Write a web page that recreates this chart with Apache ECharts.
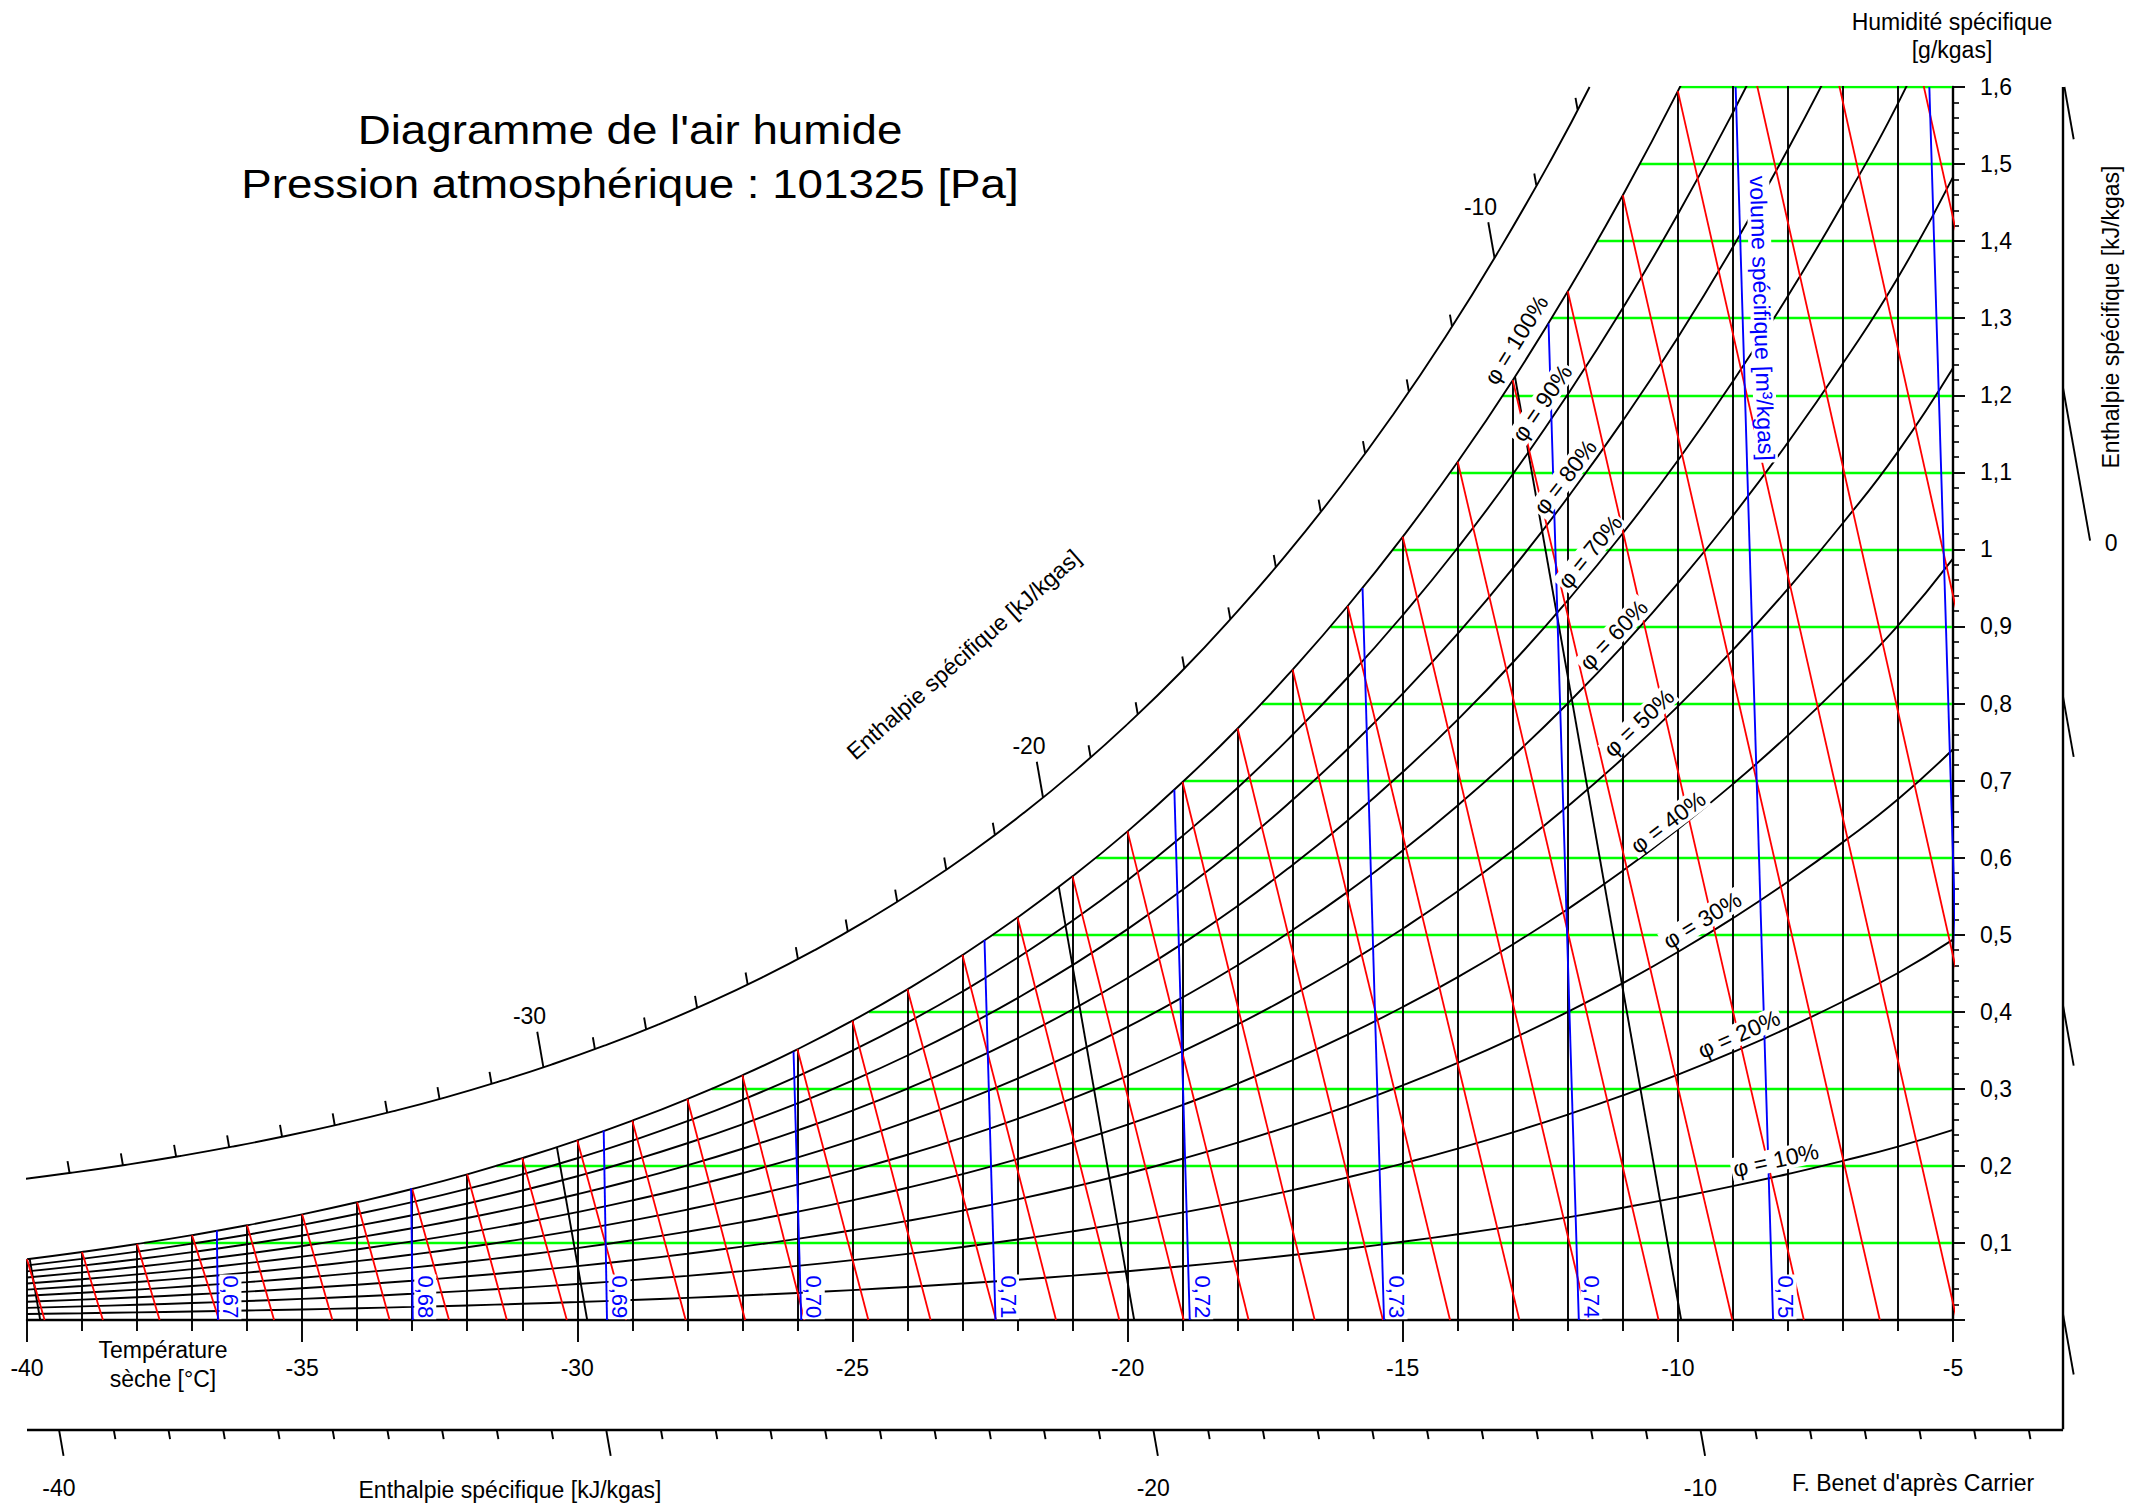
<!DOCTYPE html>
<html>
<head>
<meta charset="utf-8">
<title>Diagramme de l'air humide</title>
<script src="https://cdn.jsdelivr.net/npm/echarts@6.0.0/dist/echarts.min.js"></script>
<style>html,body{margin:0;padding:0;background:#ffffff;}#chart{width:2134px;height:1510px;}</style>
</head>
<body>
<div id="chart"></div>
<script>
// ---------------- values ----------------
const temperatures = [-40,-39,-38,-37,-36,-35,-34,-33,-32,-31,-30,-29,-28,-27,-26,-25,-24,-23,-22,-21,-20,-19,-18,-17,-16,-15,-14,-13,-12,-11,-10,-9,-8,-7,-6,-5];
// saturation specific humidity (g/kgas) at each dry temperature
const saturationW = [0.0788,0.0882,0.0986,0.1101,0.1229,0.1371,0.1528,0.1700,0.1890,0.2101,0.2332,0.2587,0.2867,0.3175,0.3513,0.3884,0.4291,0.4736,0.5223,0.5757,0.6341,0.6981,0.7676,0.8440,0.9265,1.0163,1.1137,1.2196,1.3349,1.4595,1.5946,1.7414,1.9001,2.0719,2.2579,2.4757];
const rhLevels = [0.1,0.2,0.3,0.4,0.5,0.6,0.7,0.8,0.9];
const rhLabels = ['φ = 10%','φ = 20%','φ = 30%','φ = 40%','φ = 50%','φ = 60%','φ = 70%','φ = 80%','φ = 90%','φ = 100%'];
const rhLabelLevel = [0.1,0.2,0.3,0.4,0.5,0.6,0.7,0.8,0.9,1.0];
const rhLabelT = [-8.22,-8.89,-9.56,-10.18,-10.71,-11.17,-11.60,-12.05,-12.47,-12.94];
const rhLabelW = [0.2076,0.371,0.519,0.646,0.775,0.889,0.997,1.094,1.190,1.272];
// horizontal (green) specific humidity lines and their start on the saturation curve
const humidityLines = [0.1,0.2,0.3,0.4,0.5,0.6,0.7,0.8,0.9,1.0,1.1,1.2,1.3,1.4,1.5,1.6];
const humidityLineStartT = [-37.87,-31.47,-27.56,-24.70,-22.45,-20.57,-18.97,-17.56,-16.31,-15.18,-14.13,-13.18,-12.29,-11.47,-10.69,-9.96];
// red lines: start on saturation at these temperatures, end on w = 0 at these temperatures
const redStartT = [-40,-39,-38,-37,-36,-35,-34,-33,-32,-31,-30,-29,-28,-27,-26,-25,-24,-23,-22,-21,-20,-19,-18,-17,-16,-15,-14,-13,-12,-11,-10,-9,-8,-7];
const redEndT = [-39.68,-38.62,-37.59,-36.51,-35.51,-34.45,-33.41,-32.33,-31.28,-30.19,-29.11,-28.03,-26.95,-25.87,-24.71,-23.58,-22.39,-21.30,-20.15,-18.98,-17.80,-16.60,-15.36,-14.14,-12.88,-11.64,-10.35,-9.01,-7.71,-6.33,-4.93,-3.51,-2.06,-0.54];
// specific volume (blue) lines
const volumeLabels = ['0,67','0,68','0,69','0,70','0,71','0,72','0,73','0,74','0,75',''];
const volumeBottomT = [-36.53,-32.99,-29.46,-25.93,-22.40,-18.87,-15.34,-11.80,-8.27,-4.74];
const volumeTopT = [-36.55,-33.02,-29.52,-26.07,-22.60,-19.15,-15.73,-12.35,-8.95,-5.43];
const volumeTopW = [0.116,0.171,0.246,0.348,0.493,0.688,0.950,1.293,1.6,1.6];
// isenthalps drawn in black
const enthalpyLines = [-40,-30,-20,-10];
const enthalpyBottomT = [-39.76,-29.82,-19.88,-9.94];
const enthalpyTopT = [-39.95,-30.37,-21.25,-12.96];
const enthalpyTopW = [0.079,0.224,0.562,1.224];
// enthalpy scales (kJ/kgas)
const diagScaleTicks = [-39,-38,-37,-36,-35,-34,-33,-32,-31,-30,-29,-28,-27,-26,-25,-24,-23,-22,-21,-20,-19,-18,-17,-16,-15,-14,-13,-12,-11,-10,-9,-8];
const diagScaleLabels = [-30,-20,-10];
const bottomScaleTicks = [-40,-39,-38,-37,-36,-35,-34,-33,-32,-31,-30,-29,-28,-27,-26,-25,-24,-23,-22,-21,-20,-19,-18,-17,-16,-15,-14,-13,-12,-11,-10,-9,-8,-7,-6,-5,-4];
const bottomScaleMajor = [-40,-30,-20,-10];
const bottomScaleLabels = [-40,-20,-10];
const rightScaleTicks = [-3,-2,-1,0,1];
const rightScaleLabels = [0];

// ---------------- layout / style constants ----------------
const FONT = '"Liberation Sans", Arial, Helvetica, sans-serif';
const BLACK = '#000000', RED = '#ff0000', BLUE = '#0000ff', GREEN = '#00ff00';
const BOTTOM_SCALE_W = -0.1418;   // level of the bottom enthalpy scale (below w = 0)
const RIGHT_SCALE_T = -3.0;       // position of the right enthalpy scale
const DIAG_OFFSET = 80;           // px offset of the oblique enthalpy scale from saturation
const LW = 1.9;                   // main line width

const chart = echarts.init(document.getElementById('chart'), null, {renderer: 'svg', width: 2134, height: 1510});

function rhW(phi, ws) { return 621.98 * phi * ws / (621.98 + ws * (1 - phi)); }
function tIsenthalp(h, w) { return (h - 2.501 * w) / (1.006 + 0.00186 * w); }
function wIsenthalp(h, t) { return (h - 1.006 * t) / (2.501 + 0.00186 * t); }
const seg = (a, b) => ({coords: [a, b]});

function linesSeries(data, color, width, z, clip) {
  return {type: 'lines', coordinateSystem: 'cartesian2d', xAxisIndex: 0, yAxisIndex: 0,
    polyline: false, data: data, silent: true, clip: clip, z: z, animation: false,
    lineStyle: {color: color, width: width, opacity: 1, curveness: 0}};
}
function curveSeries(data, color, width, z, clip) {
  return {type: 'line', data: data, smooth: 0.5, symbol: 'none', showSymbol: false,
    silent: true, clip: clip, z: z, animation: false, lineStyle: {color: color, width: width}};
}

const satIndex = t => temperatures.indexOf(t);
const verticalData = temperatures.map((t, i) => seg([t, 0], [t, saturationW[i]]));
const greenData = humidityLines.map((w, i) => seg([humidityLineStartT[i], w], [-5, w]));
const redData = redStartT.map((t, i) => seg([t, saturationW[satIndex(t)]], [redEndT[i], 0]));
const blueData = volumeBottomT.map((t, i) => seg([t, 0], [volumeTopT[i], volumeTopW[i]]));
const enthData = enthalpyLines.map((h, i) => seg([enthalpyBottomT[i], 0], [enthalpyTopT[i], enthalpyTopW[i]]));

const baseSeries = [
  linesSeries(greenData, GREEN, 2.4, 2, true),
  linesSeries(verticalData, BLACK, LW, 3, true),
  curveSeries(temperatures.map((t, i) => [t, saturationW[i]]), BLACK, LW, 4, true)
];
rhLevels.forEach(phi => baseSeries.push(curveSeries(temperatures.map((t, i) => [t, rhW(phi, saturationW[i])]), BLACK, LW, 4, true)));
baseSeries.push(linesSeries(enthData, BLACK, LW, 4, true));
baseSeries.push(linesSeries(redData, RED, 1.8, 5, true));
baseSeries.push(linesSeries(blueData, BLUE, 1.9, 6, true));

const axisText = {color: BLACK, fontFamily: FONT, fontSize: 23};
const option = {
  backgroundColor: '#ffffff',
  animation: false,
  grid: {left: 27, right: 181, top: 87, bottom: 190, containLabel: false, outerBoundsMode: 'none'},
  xAxis: {
    type: 'value', min: -40, max: -5, interval: 5,
    axisLine: {show: true, onZero: false, lineStyle: {color: BLACK, width: 2.4}},
    axisTick: {show: true, length: 22, lineStyle: {color: BLACK, width: LW}},
    minorTick: {show: true, splitNumber: 5, length: 11, lineStyle: {color: BLACK, width: LW}},
    axisLabel: Object.assign({margin: 36, showMinLabel: true, showMaxLabel: true}, axisText),
    splitLine: {show: false}, minorSplitLine: {show: false}
  },
  yAxis: {
    type: 'value', position: 'right', min: 0, max: 1.6, interval: 0.1,
    axisLine: {show: true, onZero: false, lineStyle: {color: BLACK, width: 2.4}},
    axisTick: {show: true, length: 12, lineStyle: {color: BLACK, width: LW}},
    minorTick: {show: true, splitNumber: 5, length: 6, lineStyle: {color: BLACK, width: 1.6}},
    axisLabel: Object.assign({margin: 27, showMinLabel: true, showMaxLabel: true,
      formatter: v => (Math.abs(v) < 1e-9 ? '' : String(+v.toFixed(1)).replace('.', ','))}, axisText),
    splitLine: {show: false}, minorSplitLine: {show: false}
  },
  series: baseSeries
};
chart.setOption(option);

// ---------------- second pass: scales & labels placed via the axes ----------------
const toPx = p => chart.convertToPixel({gridIndex: 0}, p);
const toData = p => chart.convertFromPixel({gridIndex: 0}, p);
const topY = toPx([-5, 1.6])[1];

// oblique enthalpy scale curve, parallel to saturation
const P = temperatures.map((t, i) => toPx([t, saturationW[i]]));
const Q = P.map((p, i) => {
  const a = P[Math.max(0, i - 1)], b = P[Math.min(P.length - 1, i + 1)];
  let dx = b[0] - a[0], dy = b[1] - a[1];
  const L = Math.hypot(dx, dy); dx /= L; dy /= L;
  return [p[0] + dy * DIAG_OFFSET, p[1] - dx * DIAG_OFFSET];
});
const scaleCurve = [];
for (let i = 0; i < Q.length; i++) {
  if (Q[i][1] >= topY) { scaleCurve.push(Q[i]); }
  else {
    const a = Q[i - 1], b = Q[i], f = (a[1] - topY) / (a[1] - b[1]);
    scaleCurve.push([a[0] + f * (b[0] - a[0]), topY]);
    break;
  }
}
function isenthalpDir(h) {
  const A = toPx([tIsenthalp(h, 0), 0]), B = toPx([tIsenthalp(h, 1.6), 1.6]);
  const L = Math.hypot(B[0] - A[0], B[1] - A[1]);
  return {A: A, up: [(B[0] - A[0]) / L, (B[1] - A[1]) / L]};
}
function intersectPoly(A, r, poly) {
  for (let k = 0; k < poly.length - 1; k++) {
    const C = poly[k], q = [poly[k + 1][0] - C[0], poly[k + 1][1] - C[1]];
    const cr = r[0] * q[1] - r[1] * q[0];
    if (Math.abs(cr) < 1e-9) continue;
    const ca = [C[0] - A[0], C[1] - A[1]];
    const s = (ca[0] * q[1] - ca[1] * q[0]) / cr;
    const u = (ca[0] * r[1] - ca[1] * r[0]) / cr;
    if (u >= 0 && u <= 1) return [A[0] + s * r[0], A[1] + s * r[1]];
  }
  return null;
}
const add = (p, v, k) => [p[0] + v[0] * k, p[1] + v[1] * k];

const g = [];
function txt(x, y, text, o) {
  o = o || {};
  const el = {type: 'text', x: x, y: y, rotation: o.rot || 0, z: 100, zlevel: 0, silent: true,
    scaleX: o.sx || 1,
    style: {text: text, fill: o.color || BLACK, font: (o.size || 23) + 'px ' + FONT,
      align: o.align || 'center', verticalAlign: o.va || 'middle'}};
  if (o.bg) { el.style.backgroundColor = o.bg; el.style.padding = o.pad || [0, 2]; }
  if (o.lh) el.style.lineHeight = o.lh;
  return el;
}

const diagTickData = [];
diagScaleTicks.forEach(h => {
  const d = isenthalpDir(h);
  const X = intersectPoly(d.A, d.up, scaleCurve);
  if (!X) return;
  const major = diagScaleLabels.indexOf(h) >= 0;
  const len = major ? 36 : 12;
  const E = add(X, d.up, len);
  diagTickData.push(seg(toData(X), toData(E)));
  if (major) { const Lp = add(E, d.up, 16); g.push(txt(Lp[0] - 5, Lp[1], String(h), {size: 23})); }
});

// bottom enthalpy scale
const bottomTickData = [];
bottomScaleTicks.forEach(h => {
  const d = isenthalpDir(h);
  const X = toPx([tIsenthalp(h, BOTTOM_SCALE_W), BOTTOM_SCALE_W]);
  const major = bottomScaleMajor.indexOf(h) >= 0;
  const E = add(X, d.up, -(major ? 27 : 10));
  bottomTickData.push(seg(toData(X), toData(E)));
  if (bottomScaleLabels.indexOf(h) >= 0) g.push(txt(X[0], X[1] + 59, String(h), {size: 23}));
});

// right enthalpy scale
const rightTickData = [];
rightScaleTicks.forEach(h => {
  const d = isenthalpDir(h);
  const w0 = wIsenthalp(h, RIGHT_SCALE_T);
  const X = toPx([RIGHT_SCALE_T, w0]);
  const major = rightScaleLabels.indexOf(h) >= 0;
  const E = add(X, d.up, -(major ? 155 : 61));
  let S = X;
  if (w0 > 1.6) S = toPx([tIsenthalp(h, 1.6), 1.6]);
  rightTickData.push(seg(toData(S), toData(E)));
  if (major) g.push(txt(E[0] + 21, E[1] + 2, String(h), {size: 23}));
});

const frameData = [
  seg([-40, BOTTOM_SCALE_W], [RIGHT_SCALE_T, BOTTOM_SCALE_W]),
  seg([RIGHT_SCALE_T, BOTTOM_SCALE_W], [RIGHT_SCALE_T, 1.6])
];

// relative humidity labels along their curves
rhLabels.forEach((lab, i) => {
  const phi = rhLabelLevel[i];
  const k = Math.floor(rhLabelT[i]) - temperatures[0];
  const p1 = toPx([temperatures[k], rhW(phi, saturationW[k])]);
  const p2 = toPx([temperatures[k + 1], rhW(phi, saturationW[k + 1])]);
  const ang = Math.atan2(-(p2[1] - p1[1]), p2[0] - p1[0]);
  const c = toPx([rhLabelT[i], rhLabelW[i]]);
  g.push(txt(c[0], c[1], lab, {size: 23, rot: ang, bg: '#ffffff', pad: [0, 2]}));
});

// specific volume labels
volumeLabels.forEach((lab, i) => {
  if (!lab) return;
  const c = toPx([volumeBottomT[i], 0.03]);
  g.push(txt(c[0] + 12.5, c[1], lab, {size: 22, color: BLUE, rot: -Math.PI / 2, bg: '#ffffff', pad: [0, 1]}));
});
(function () {
  const c = toPx([-8.47, 1.30]);
  g.push(txt(c[0], c[1], 'volume spécifique [m³/kgas]', {size: 23, color: BLUE, rot: -1.5395, bg: '#ffffff', pad: [0, 2]}));
  const e = toPx([-22.98, 0.8635]);
  g.push(txt(e[0], e[1], 'Enthalpie spécifique [kJ/kgas]', {size: 23, rot: 41.5 * Math.PI / 180}));
})();

// free texts
g.push(txt(630, 130, "Diagramme de l'air humide", {size: 41, sx: 1.115}));
g.push(txt(630, 184, 'Pression atmosphérique : 101325 [Pa]', {size: 41, sx: 1.115}));
g.push(txt(1952, 22, 'Humidité spécifique', {size: 23}));
g.push(txt(1952, 50, '[g/kgas]', {size: 23}));
g.push(txt(2111, 317, 'Enthalpie spécifique [kJ/kgas]', {size: 23, rot: Math.PI / 2}));
g.push(txt(163, 1350, 'Température', {size: 23}));
g.push(txt(163, 1379, 'sèche [°C]', {size: 23}));
g.push(txt(510, 1490, 'Enthalpie spécifique [kJ/kgas]', {size: 23}));
g.push(txt(1913, 1483, "F. Benet d'après Carrier", {size: 23}));

const extraSeries = [
  curveSeries(scaleCurve.map(toData), BLACK, LW, 4, false),
  linesSeries(diagTickData, BLACK, LW, 4, false),
  linesSeries(bottomTickData, BLACK, LW, 4, false),
  linesSeries(rightTickData, BLACK, LW, 4, false),
  linesSeries(frameData, BLACK, 2.4, 4, false)
];
chart.setOption({series: baseSeries.concat(extraSeries), graphic: {elements: g}});
</script>
</body>
</html>
